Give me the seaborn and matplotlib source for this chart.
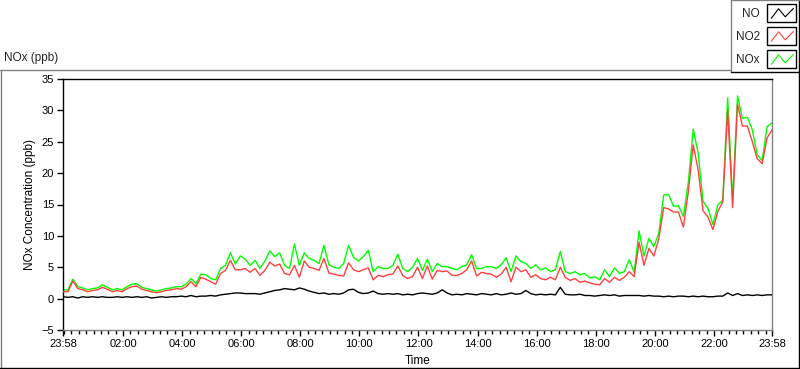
import numpy as np
import pandas as pd
import matplotlib
matplotlib.use("Agg")
import matplotlib.pyplot as plt
import seaborn as sns
from matplotlib.legend_handler import HandlerBase
from matplotlib.lines import Line2D
from matplotlib.patches import Rectangle

# ---------------- data (minutes after 23:58, every 10 min) ----------------
minutes = np.arange(0, 1441, 10)

no2_vals = [
    1.1, 1.1, 2.8, 1.6, 1.4, 1.1, 1.3, 1.4, 1.8, 1.5, 1.1, 1.3, 1.1, 1.6, 1.9, 2.0,
    1.5, 1.3, 1.1, 0.95, 1.1, 1.3, 1.4, 1.6, 1.5, 1.9, 2.7, 1.9, 3.4, 3.1, 2.7, 2.3,
    4.0, 4.5, 6.1, 4.6, 4.6,
    4.8, 4.2, 4.8, 3.7, 4.5, 5.8, 5.2, 5.5, 4.0, 3.8, 5.3, 3.4, 6.0, 5.0, 4.8, 4.5,
    6.4, 4.1, 3.9, 3.7, 3.6, 5.7, 4.6, 4.3, 4.6, 4.9, 3.0, 3.7, 3.5, 3.8, 3.9, 5.2,
    3.7, 3.2, 3.5,
    5.0, 3.2, 5.2, 3.1, 4.5, 4.3, 4.4, 3.7, 3.7, 4.0, 4.6, 6.0, 3.6, 4.2, 4.0, 3.9,
    3.4, 3.9, 5.0, 2.7, 5.0, 4.3, 4.6, 3.4, 3.8, 3.2, 3.0, 3.4, 3.0, 5.0, 3.4, 2.9,
    3.2, 2.6, 2.8,
    2.5, 2.3, 2.2, 3.2, 2.6, 3.4, 2.9, 3.4, 4.3, 3.5, 9.0, 5.3, 8.0, 6.8, 9.5, 14.5,
    14.3, 13.8, 13.8, 11.4, 17.0, 24.5, 20.5, 14.0, 13.0, 11.0, 13.9, 15.4, 30.0,
    14.5, 31.0, 27.5, 27.5, 25.0, 22.3, 21.5, 25.6, 26.9,
]

nox_vals = [
    1.4, 1.4, 3.1, 1.9, 1.7, 1.4, 1.6, 1.7, 2.2, 1.8, 1.4, 1.6, 1.4, 1.9, 2.3, 2.4,
    1.8, 1.6, 1.4, 1.2, 1.4, 1.6, 1.7, 1.9, 1.9, 2.3, 3.2, 2.4, 3.9, 3.8, 3.2, 3.0,
    4.8, 5.3, 7.3, 5.5, 6.8,
    6.3, 5.3, 6.1, 4.8, 6.0, 7.6, 6.7, 7.3, 5.3, 4.8, 8.7, 5.3, 7.3, 6.4, 6.1, 5.6,
    8.5, 5.4, 5.0, 4.8, 5.6, 8.5, 6.6, 6.0, 6.7, 7.7, 4.3, 5.1, 4.8, 4.8, 5.3, 7.1,
    4.8, 4.3, 5.0,
    6.4, 4.5, 6.3, 4.3, 5.6, 5.1, 5.1, 4.8, 4.6, 5.1, 5.4, 7.0, 4.8, 4.8, 5.1, 5.1,
    4.8, 5.4, 6.5, 4.3, 6.8, 5.9, 5.6, 4.8, 5.4, 4.6, 4.9, 4.3, 4.6, 7.5, 4.3, 4.0,
    4.3, 3.8, 4.0,
    3.3, 3.5, 3.0, 4.6, 3.5, 4.9, 4.0, 4.3, 6.2, 4.2, 10.8, 6.8, 9.6, 8.3, 10.4, 16.5,
    16.6, 14.7, 14.8, 13.1, 18.5, 27.0, 23.2, 15.5, 14.4, 11.8, 14.9, 15.7, 32.0,
    15.5, 32.3, 28.7, 28.9, 26.9, 22.9, 22.0, 27.4, 28.0,
]

no_vals = [
    0.3, 0.2, 0.3, 0.1, 0.3, 0.2, 0.3, 0.2, 0.3, 0.2, 0.2, 0.3, 0.2, 0.3, 0.2, 0.3,
    0.2, 0.3, 0.1, 0.2, 0.3, 0.2, 0.3, 0.3, 0.4, 0.3, 0.5, 0.3, 0.4, 0.4, 0.5, 0.4,
    0.6, 0.7, 0.8, 0.9, 0.9,
    0.8, 0.8, 0.8, 0.7, 0.9, 1.1, 1.3, 1.4, 1.6, 1.5, 1.4, 1.7, 1.5, 1.2, 1.0, 0.8,
    0.9, 0.7, 0.8, 0.7, 0.9, 1.4, 1.5, 1.0, 0.8, 0.9, 1.2, 0.8, 0.7, 0.8, 0.7, 0.8,
    0.6, 0.7, 0.6,
    0.8, 0.9, 0.8, 0.7, 0.9, 1.4, 0.9, 0.6, 0.7, 0.6, 0.8, 0.7, 0.6, 0.8, 0.7, 0.6,
    0.8, 0.6, 0.7, 0.9, 0.7, 0.8, 1.3, 0.8, 0.6, 0.7, 0.6, 0.7, 0.6, 1.8, 0.7, 0.6,
    0.6, 0.7, 0.5,
    0.5, 0.4, 0.5, 0.6, 0.5, 0.6, 0.4, 0.5, 0.5, 0.5, 0.5, 0.4, 0.5, 0.4, 0.4, 0.3,
    0.4, 0.3, 0.4, 0.4, 0.3, 0.4, 0.3, 0.4, 0.3, 0.3, 0.4, 0.4, 0.9, 0.5, 0.8, 0.5,
    0.6, 0.5, 0.6, 0.5, 0.6, 0.6,
]

series_names = ["NO", "NO2", "NOx"]
series_colors = {"NO": "#000000", "NO2": "#ff4040", "NOx": "#00ff00"}

x_tick_minutes = [0, 122, 242, 362, 482, 602, 722, 842, 962, 1082, 1202, 1322, 1440]
x_tick_labels = ["23:58", "02:00", "04:00", "06:00", "08:00", "10:00", "12:00",
                 "14:00", "16:00", "18:00", "20:00", "22:00", "23:58"]
y_ticks = [-5, 0, 5, 10, 15, 20, 25, 30, 35]

# ---------------- style ----------------
sns.set_style("white")
plt.rcParams['font.family'] = ['Liberation Sans', 'DejaVu Sans']

W, H = 800, 369
fig = plt.figure(figsize=(W / 100, H / 100), dpi=100)
fig.patch.set_facecolor("white")


def fx(px):
    return px / W


def fy(py):
    return 1 - py / H


ax = fig.add_axes([fx(63), fy(330), fx(772) - fx(63), fy(79) - fy(330)])

df = pd.DataFrame({"t": minutes, "NO": no_vals, "NO2": no2_vals, "NOx": nox_vals})
long_df = df.melt(id_vars="t", var_name="series", value_name="ppb")

for name, z in [("NOx", 2), ("NO2", 3), ("NO", 4)]:
    sns.lineplot(data=long_df[long_df["series"] == name], x="t", y="ppb",
                 color=series_colors[name], lw=1.0, ax=ax, label=name,
                 zorder=z, legend=False)
if ax.get_legend() is not None:
    ax.get_legend().remove()

ax.set_xlim(0, 1440)
ax.set_ylim(-5, 35)
ax.set_yticks(y_ticks)
ax.set_xticks(x_tick_minutes)
ax.set_xticklabels(x_tick_labels)
ax.set_xticks(np.arange(2, 1440, 15), minor=True)

ax.tick_params(axis="both", which="major", direction="out", length=4.5, width=1,
               colors="black", labelsize=8, left=True, bottom=True, pad=2)
ax.tick_params(axis="x", which="minor", direction="out", length=2.8, width=1,
               colors="black", bottom=True)

for side in ["left", "top"]:
    ax.spines[side].set_color("black")
    ax.spines[side].set_linewidth(1.0)
for side in ["right", "bottom"]:
    ax.spines[side].set_color("#808080")
    ax.spines[side].set_linewidth(1.0)

ax.set_xlabel("Time", fontsize=8.5, labelpad=4, color="black")
ax.set_ylabel("NOx Concentration (ppb)", fontsize=8.5, labelpad=4, color="black")

fig.text(fx(4), fy(58), "NOx (ppb)", fontsize=8.5, va="center", ha="left")

# outer frame (sunken look: grey top/left, black bottom/right)
fig.add_artist(Line2D([fx(0), fx(731)], [fy(69.5), fy(69.5)], color="#808080", lw=1))
fig.add_artist(Line2D([fx(0.5), fx(0.5)], [fy(69.5), fy(368)], color="#808080", lw=1))
fig.add_artist(Line2D([fx(0), fx(800)], [fy(367.8), fy(367.8)], color="black", lw=1))
fig.add_artist(Line2D([fx(799.3), fx(799.3)], [fy(0), fy(368)], color="black", lw=1))

# legend box frame
fig.add_artist(Line2D([fx(730.8), fx(730.8)], [fy(0), fy(72.3)], color="#808080", lw=1))
fig.add_artist(Line2D([fx(730.8), fx(800)], [fy(72.3), fy(72.3)], color="black", lw=1))
fig.add_artist(Line2D([fx(730.8), fx(800)], [fy(0.4), fy(0.4)], color="#808080", lw=1))


# ---------------- legend ----------------
class ZigzagHandler(HandlerBase):
    def create_artists(self, legend, orig_handle, xdescent, ydescent, width,
                       height, fontsize, trans):
        box = Rectangle((-xdescent, -ydescent), width, height, fill=False,
                        edgecolor="black", lw=1.0, transform=trans)
        xs = np.array([0.15, 0.40, 0.63, 0.91]) * width - xdescent
        ys = np.array([0.22, 0.74, 0.30, 0.76]) * height - ydescent
        ln = Line2D(xs, ys, color=orig_handle.get_color(), lw=0.8, transform=trans)
        return [box, ln]


line_by_label = {l.get_label(): l for l in ax.get_lines()}
handles = [line_by_label[n] for n in series_names]
leg = fig.legend(handles, series_names, loc="upper right",
                 bbox_to_anchor=(fx(796), fy(4)), bbox_transform=fig.transFigure,
                 markerfirst=False, frameon=False,
                 handlelength=2.46, handleheight=2.01, labelspacing=0.40,
                 borderpad=0, borderaxespad=0, handletextpad=0.6,
                 fontsize=8.5, handler_map={Line2D: ZigzagHandler()})

fig.savefig("out.png", dpi=100)
